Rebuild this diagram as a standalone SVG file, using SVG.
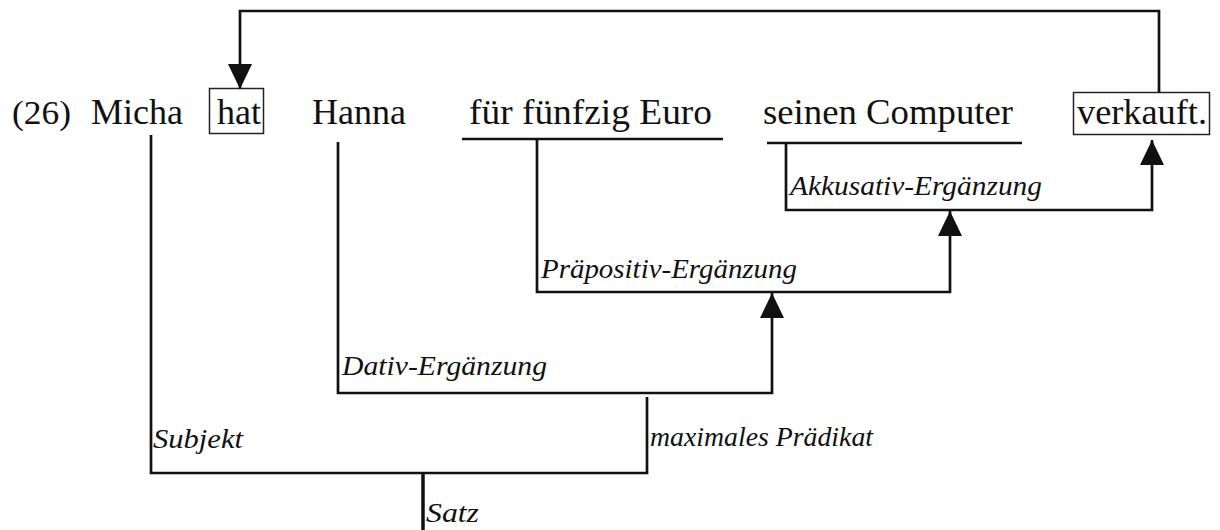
<svg xmlns="http://www.w3.org/2000/svg" width="1220" height="530" viewBox="0 0 1220 530">
<style>
.w{font-family:"Liberation Serif","Times New Roman",serif;font-size:36px;fill:#111}
.l{font-family:"Liberation Serif","Times New Roman",serif;font-style:italic;font-size:27px;fill:#111}
.c{fill:none;stroke:#111;stroke-width:2.7}
.b{fill:none;stroke:#222;stroke-width:1.5}
</style>
<defs>
<marker id="ah" markerUnits="userSpaceOnUse" markerWidth="26" markerHeight="26" refX="25" refY="12" orient="auto">
<path d="M0,0 L25,12 L0,24 Z" fill="#111"/>
</marker>
</defs>
<rect width="1220" height="530" fill="#fff"/>
<g id="num"><text class="w" x="12" y="124" style="font-size:33px" textLength="59" lengthAdjust="spacingAndGlyphs">(26)</text></g>
<g id="micha"><text class="w" x="91" y="124">Micha</text></g>
<g id="hat"><rect class="b" x="209.5" y="88.5" width="54" height="45"/><text class="w" x="217" y="124">hat</text></g>
<g id="hanna"><text class="w" x="312" y="124">Hanna</text></g>
<g id="euro"><text class="w" x="469" y="124" textLength="243" lengthAdjust="spacingAndGlyphs">für fünfzig Euro</text></g>
<g id="computer"><text class="w" x="763" y="124" textLength="250" lengthAdjust="spacingAndGlyphs">seinen Computer</text></g>
<g id="verkauft"><rect class="b" x="1073.5" y="92.5" width="136" height="42"/><text class="w" x="1077" y="124" textLength="130" lengthAdjust="spacingAndGlyphs">verkauft.</text></g>
<g id="labels">
<text class="l" x="790" y="195" textLength="252" lengthAdjust="spacingAndGlyphs">Akkusativ-Ergänzung</text>
<text class="l" x="541" y="278" textLength="256" lengthAdjust="spacingAndGlyphs">Präpositiv-Ergänzung</text>
<text class="l" x="342" y="375" textLength="205" lengthAdjust="spacingAndGlyphs">Dativ-Ergänzung</text>
<text class="l" x="153" y="448" textLength="90" lengthAdjust="spacingAndGlyphs">Subjekt</text>
<text class="l" x="650" y="446" textLength="223" lengthAdjust="spacingAndGlyphs">maximales Prädikat</text>
<text class="l" x="426" y="522" textLength="53" lengthAdjust="spacingAndGlyphs">Satz</text>
</g>
<g id="connectors">
<polyline class="c" points="1159,92 1159,11 240,11 240,89" marker-end="url(#ah)"/>
<line class="c" x1="462" y1="139" x2="723" y2="139"/>
<line class="c" x1="767" y1="143" x2="1022" y2="143"/>
<polyline class="c" points="786,143 786,210 1152,210 1152,140" marker-end="url(#ah)"/>
<polyline class="c" points="537,139 537,292 950,292 950,211" marker-end="url(#ah)"/>
<polyline class="c" points="338,142 338,393 772,393 772,293" marker-end="url(#ah)"/>
<polyline class="c" points="151,135 151,473 647,473 647,397"/>
<line x1="423" y1="472" x2="423" y2="530" stroke="#111" stroke-width="3.5"/>
</g>
</svg>
